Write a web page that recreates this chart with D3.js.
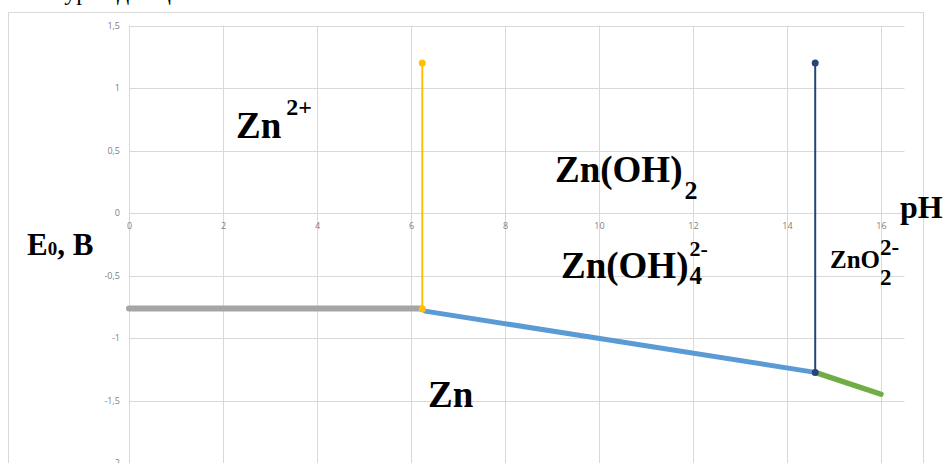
<!DOCTYPE html>
<html>
<head>
<meta charset="utf-8">
<script src="https://cdn.jsdelivr.net/npm/d3@7"></script>
<style>
  body { margin: 0; background: #fff; }
  svg { display: block; }
</style>
</head>
<body>
<svg id="chart" width="946" height="463"></svg>
<script>
// axis ticks
const xTicks = [0, 2, 4, 6, 8, 10, 12, 14, 16];
const yTicks = [1.5, 1, 0.5, 0, -0.5, -1, -1.5, -2];

// series: pH / E0 pairs
const pHZn2 = [0, 6.24];
const EZn2 = [-0.763, -0.763];
const pHHydroxo = [6.3, 14.6];
const EHydroxo = [-0.785, -1.275];
const pHZincate = [14.6, 16];
const EZincate = [-1.275, -1.45];
const pHBorder1 = [6.24, 6.24];
const EBorder1 = [1.2, -0.768];
const pHBorder2 = [14.6, 14.6];
const EBorder2 = [1.2, -1.275];

const svg = d3.select('#chart');
const W = 946, H = 463;

const x = d3.scaleLinear().domain([0, 16.5]).range([129, 904.5]);
const y = d3.scaleLinear().domain([-2, 1.5]).range([463, 25.5]);

// cut-off line of the document above the chart
svg.append('text')
  .attr('x', 47).attr('y', 0)
  .style('font-family', '"Liberation Serif", serif')
  .style('font-size', '24px')
  .text('Пурбе для цинка');

// chart frame
svg.append('rect')
  .attr('x', 8.5).attr('y', 12.5)
  .attr('width', 915).attr('height', 470)
  .attr('fill', '#fff')
  .attr('stroke', '#d9d9d9');

// gridlines
svg.append('g').selectAll('line')
  .data(yTicks)
  .join('line')
  .attr('x1', x(0)).attr('x2', x(16.5))
  .attr('y1', (d) => Math.round(y(d)) + 0.5)
  .attr('y2', (d) => Math.round(y(d)) + 0.5)
  .attr('stroke', '#d9d9d9')
  .attr('stroke-width', 1);

svg.append('g').selectAll('line')
  .data(xTicks)
  .join('line')
  .attr('x1', (d) => Math.round(x(d)) + 0.5)
  .attr('x2', (d) => Math.round(x(d)) + 0.5)
  .attr('y1', y(1.5)).attr('y2', y(-2))
  .attr('stroke', '#d9d9d9')
  .attr('stroke-width', 1);

// x axis crosses at E = 0, labels hang below it
const xAxis = d3.axisBottom(x).tickValues(xTicks).tickSize(0).tickPadding(10)
  .tickFormat((d) => String(d));
const gx = svg.append('g')
  .attr('transform', `translate(0,${y(0)})`)
  .call(xAxis);
gx.select('.domain').remove();
gx.selectAll('text')
  .style('font-family', '"Open Sans", sans-serif')
  .style('font-size', '9px')
  .attr('fill', '#808080');

const yAxis = d3.axisLeft(y).tickValues(yTicks).tickSize(0).tickPadding(9)
  .tickFormat((d) => String(d).replace('.', ','));
const gy = svg.append('g')
  .attr('transform', `translate(${x(0)},0)`)
  .call(yAxis);
gy.select('.domain').remove();
gy.selectAll('text')
  .style('font-family', '"Open Sans", sans-serif')
  .style('font-size', '9px')
  .attr('fill', '#808080');

const line = d3.line().x((d) => x(d[0])).y((d) => y(d[1]));
const zip = (a, b) => a.map((v, i) => [v, b[i]]);

// thick marker-style lines
const thick = [
  { pts: zip(pHZn2, EZn2), color: '#a5a5a5', w: 6 },
  { pts: zip(pHHydroxo, EHydroxo), color: '#5b9bd5', w: 5 },
  { pts: zip(pHZincate, EZincate), color: '#70ad47', w: 5.5 },
];
svg.append('g').selectAll('path')
  .data(thick)
  .join('path')
  .attr('d', (d) => line(d.pts))
  .attr('fill', 'none')
  .attr('stroke', (d) => d.color)
  .attr('stroke-width', (d) => d.w)
  .attr('stroke-linecap', 'round');

// vertical borders with end markers
const borders = [
  { pts: zip(pHBorder1, EBorder1), color: '#ffc000' },
  { pts: zip(pHBorder2, EBorder2), color: '#264478' },
];
const gb = svg.append('g');
gb.selectAll('path')
  .data(borders)
  .join('path')
  .attr('d', (d) => line(d.pts))
  .attr('fill', 'none')
  .attr('stroke', (d) => d.color)
  .attr('stroke-width', 2);
gb.selectAll('circle')
  .data(borders.flatMap((b) => b.pts.map((p) => ({ p, color: b.color }))))
  .join('circle')
  .attr('cx', (d) => x(d.p[0]))
  .attr('cy', (d) => y(d.p[1]))
  .attr('r', 3.5)
  .attr('fill', (d) => d.color);

// region labels
const serif = '"Liberation Serif", "Times New Roman", serif';
function label(px, py, main, size, sup, sub) {
  const t = svg.append('text')
    .attr('x', px).attr('y', py)
    .style('font-family', serif)
    .style('font-weight', 'bold')
    .style('font-size', `${size}px`)
    .text(main);
  const end = px + t.node().getComputedTextLength();
  if (sup) {
    svg.append('text')
      .attr('x', end + sup.dx).attr('y', sup.y)
      .style('font-family', serif)
      .style('font-weight', 'bold')
      .style('font-size', `${sup.size}px`)
      .text(sup.text);
  }
  if (sub) {
    svg.append('text')
      .attr('x', end + sub.dx).attr('y', sub.y)
      .style('font-family', serif)
      .style('font-weight', 'bold')
      .style('font-size', `${sub.size}px`)
      .text(sub.text);
  }
}

label(236, 138, 'Zn', 37, { text: '2+', size: 24, dx: 5, y: 115 });
label(555, 182, 'Zn(OH)', 37, null, { text: '2', size: 26, dx: 2, y: 199 });
label(561, 278, 'Zn(OH)', 37, { text: '2-', size: 22, dx: 1, y: 256 }, { text: '4', size: 25, dx: 1, y: 284 });
label(830, 268, 'ZnO', 25, { text: '2-', size: 23, dx: 0, y: 255 }, { text: '2', size: 23, dx: 0, y: 285 });
label(428, 407, 'Zn', 37);
label(900, 218, 'pH', 32);

// axis title E0, B
const et = svg.append('text')
  .attr('x', 27).attr('y', 255)
  .style('font-family', serif)
  .style('font-weight', 'bold')
  .style('font-size', '31px');
et.append('tspan').text('E');
et.append('tspan').style('font-size', '19px').text('0');
et.append('tspan').text(', B');
</script>
</body>
</html>
